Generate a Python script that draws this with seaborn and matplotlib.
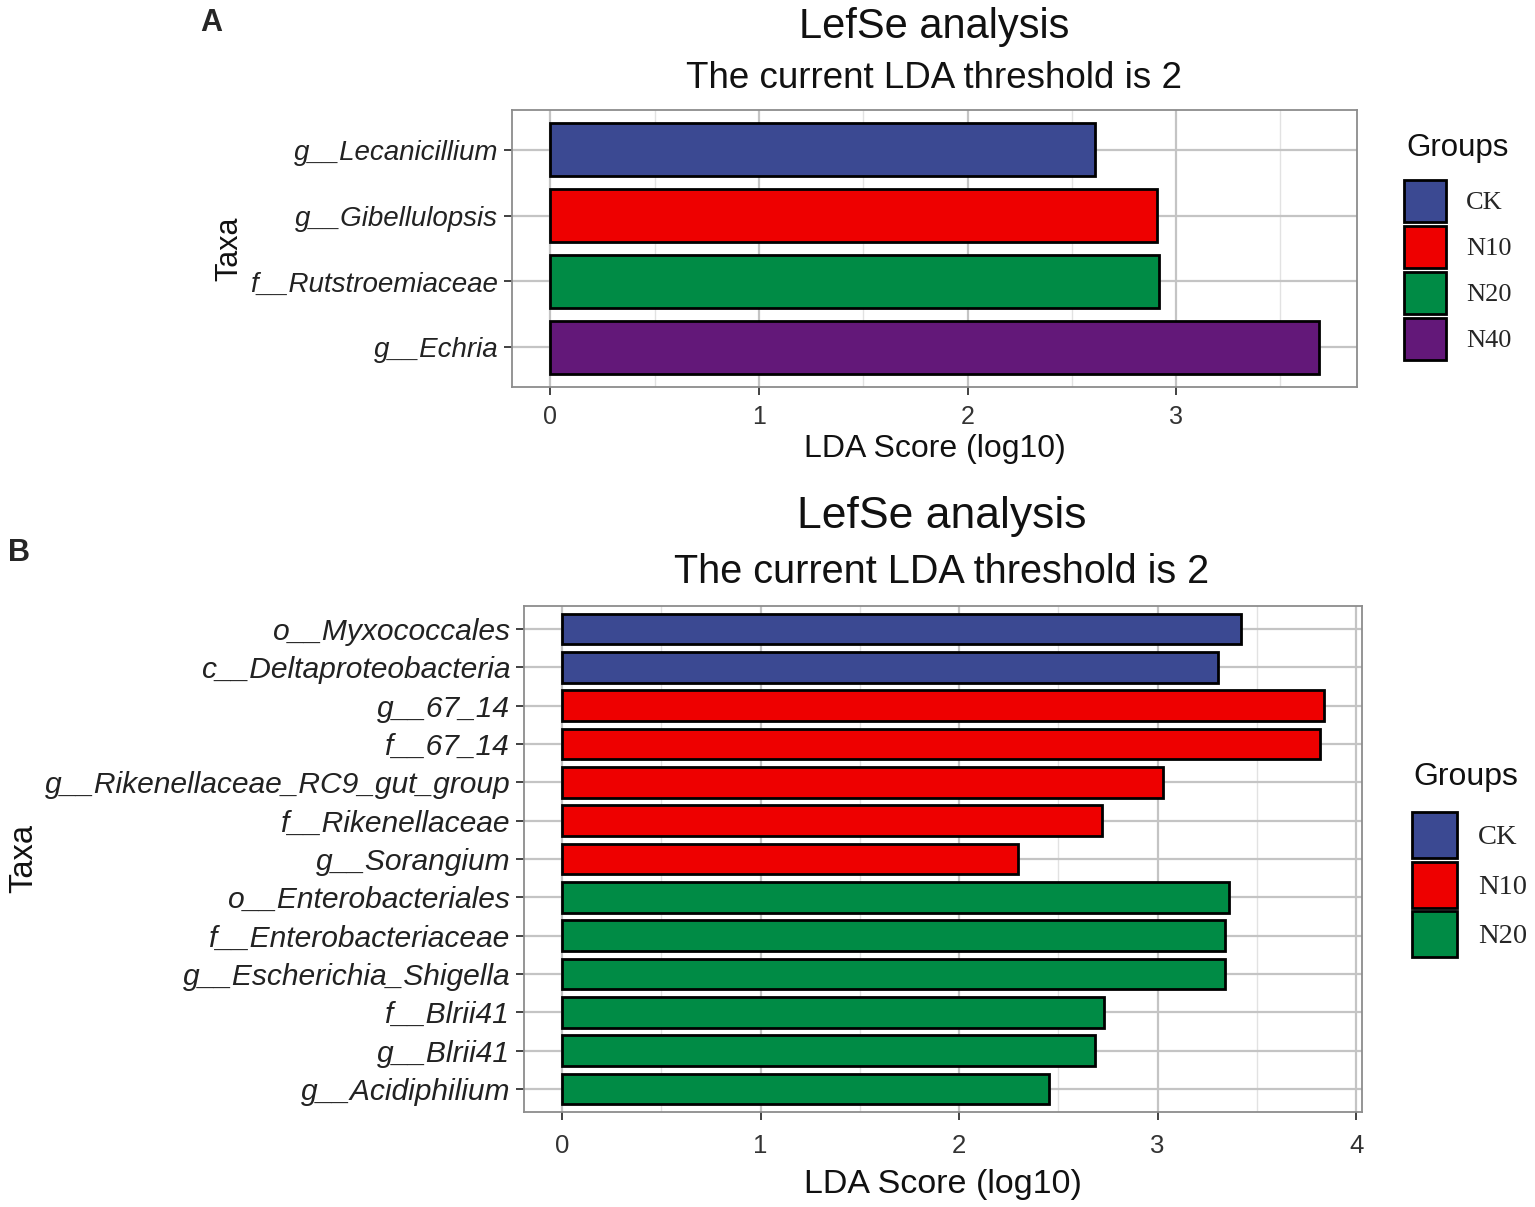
import matplotlib
matplotlib.use("Agg")
import matplotlib.pyplot as plt
import seaborn as sns
import pandas as pd
from matplotlib.patches import Patch
from matplotlib.ticker import MultipleLocator

# ---------------- data ----------------
taxa_a = ["g__Lecanicillium", "g__Gibellulopsis", "f__Rutstroemiaceae", "g__Echria"]
score_a = [2.613, 2.910, 2.918, 3.683]
group_a = ["CK", "N10", "N20", "N40"]

taxa_b = ["o__Myxococcales", "c__Deltaproteobacteria", "g__67_14", "f__67_14",
          "g__Rikenellaceae_RC9_gut_group", "f__Rikenellaceae", "g__Sorangium",
          "o__Enterobacteriales", "f__Enterobacteriaceae", "g__Escherichia_Shigella",
          "f__Blrii41", "g__Blrii41", "g__Acidiphilium"]
score_b = [3.421, 3.304, 3.838, 3.818, 3.028, 2.720, 2.298,
           3.360, 3.340, 3.340, 2.730, 2.687, 2.455]
group_b = ["CK", "CK", "N10", "N10", "N10", "N10", "N10",
           "N20", "N20", "N20", "N20", "N20", "N20"]

group_colors = {"CK": "#3B4992", "N10": "#EE0000", "N20": "#008B45", "N40": "#631879"}

title_main = "LefSe analysis"
title_sub = "The current LDA threshold is 2"
xlabel = "LDA Score (log10)"
ylabel = "Taxa"
legend_title = "Groups"

# ---------------- figure ----------------
sns.set_theme(style="white")
plt.rcParams['font.family'] = ['Liberation Sans', 'DejaVu Sans']

W, H = 1535, 1207
fig = plt.figure(figsize=(W / 100, H / 100), dpi=100)
fig.patch.set_facecolor("white")


def fx(px):
    return px / W


def fy(py):
    return 1 - py / H


def panel(rect, taxa, scores, groups, sizes, legend_anchor, legend_sizes, title_pos):
    ax = fig.add_axes(rect)
    df = pd.DataFrame({"taxa": taxa, "score": scores, "group": groups})
    hue_order = list(dict.fromkeys(groups))
    sns.barplot(data=df, x="score", y="taxa", hue="group", hue_order=hue_order,
                order=taxa, palette=group_colors, dodge=False, width=0.8,
                saturation=1, edgecolor="black", linewidth=2.0, ax=ax,
                legend=False, zorder=3)
    n = len(taxa)
    xmax = max(scores)
    ax.set_xlim(-0.05 * xmax, xmax * 1.05)
    ax.set_ylim(n - 1 + 0.6, -0.6)
    ax.xaxis.set_major_locator(MultipleLocator(1))
    ax.xaxis.set_minor_locator(MultipleLocator(0.5))
    ax.grid(True, which="major", axis="both", color="#C4C4C4", lw=1.6, zorder=0)
    ax.grid(True, which="minor", axis="x", color="#E2E2E2", lw=1.0, zorder=0)
    ax.set_axisbelow(True)
    for s in ax.spines.values():
        s.set_visible(True)
        s.set_color("#8C8C8C")
        s.set_linewidth(1.3)
    tick_fs, xtick_fs, lab_fs, xpad, lpad = sizes
    ax.tick_params(axis="y", which="major", length=6, width=1.3, color="#333333",
                   direction="out", left=True, pad=4)
    ax.tick_params(axis="x", which="major", length=6, width=1.3, color="#333333",
                   direction="out", bottom=True, pad=xpad)
    ax.tick_params(axis="both", which="minor", length=0)
    for t in ax.get_yticklabels():
        t.set_fontsize(tick_fs)
        t.set_fontstyle("italic")
        t.set_color("#222222")
    for t in ax.get_xticklabels():
        t.set_fontsize(xtick_fs)
        t.set_color("#333333")
    ax.set_xlabel(xlabel, fontsize=lab_fs, color="#111111", labelpad=lpad)
    ax.set_ylabel(ylabel, fontsize=lab_fs - 1, color="#111111", labelpad=4)
    handles = [Patch(facecolor=group_colors[g], edgecolor="black", linewidth=2.0)
               for g in hue_order]
    leg_fs, title_fs, hh, hl, ls = legend_sizes
    fig.legend(handles=handles, labels=hue_order, loc="upper left",
               bbox_to_anchor=legend_anchor, frameon=False,
               prop={"family": "Liberation Serif", "size": leg_fs},
               handleheight=hh, handlelength=hl, labelspacing=ls,
               handletextpad=0.75, borderaxespad=0, borderpad=0)
    fig.text(title_pos[0], title_pos[1], legend_title, ha="left", va="center",
             fontsize=title_fs, color="#111111")
    return ax


# Panel A
rect_a = [fx(512), fy(387), fx(1357 - 512), (387 - 110) / H]
ax_a = panel(rect_a, taxa_a, score_a, group_a, (20, 18, 23, 7, 3.5),
             (fx(1404), fy(180)), (19, 22.5, 2.07, 1.6, 0.15),
             (fx(1406), fy(148)))
fig.text(fx(934), fy(27), title_main, ha="center", va="center", fontsize=30, color="#111111")
fig.text(fx(934), fy(78), title_sub, ha="center", va="center", fontsize=26.5, color="#111111")
fig.text(fx(211), fy(23), "A", ha="center", va="center", fontsize=22, fontweight="bold")

# Panel B
rect_b = [fx(524), fy(1112), fx(1362 - 524), (1112 - 606) / H]
ax_b = panel(rect_b, taxa_b, score_b, group_b, (21.6, 18.5, 24.5, 10, 8),
             (fx(1412), fy(812)), (20.5, 23, 2.11, 1.58, 0.13),
             (fx(1413), fy(777)))
fig.text(fx(942), fy(516), title_main, ha="center", va="center", fontsize=32, color="#111111")
fig.text(fx(942), fy(572), title_sub, ha="center", va="center", fontsize=28.5, color="#111111")
fig.text(fx(19), fy(553), "B", ha="center", va="center", fontsize=22, fontweight="bold")

fig.savefig("out.png", dpi=100, facecolor="white")
